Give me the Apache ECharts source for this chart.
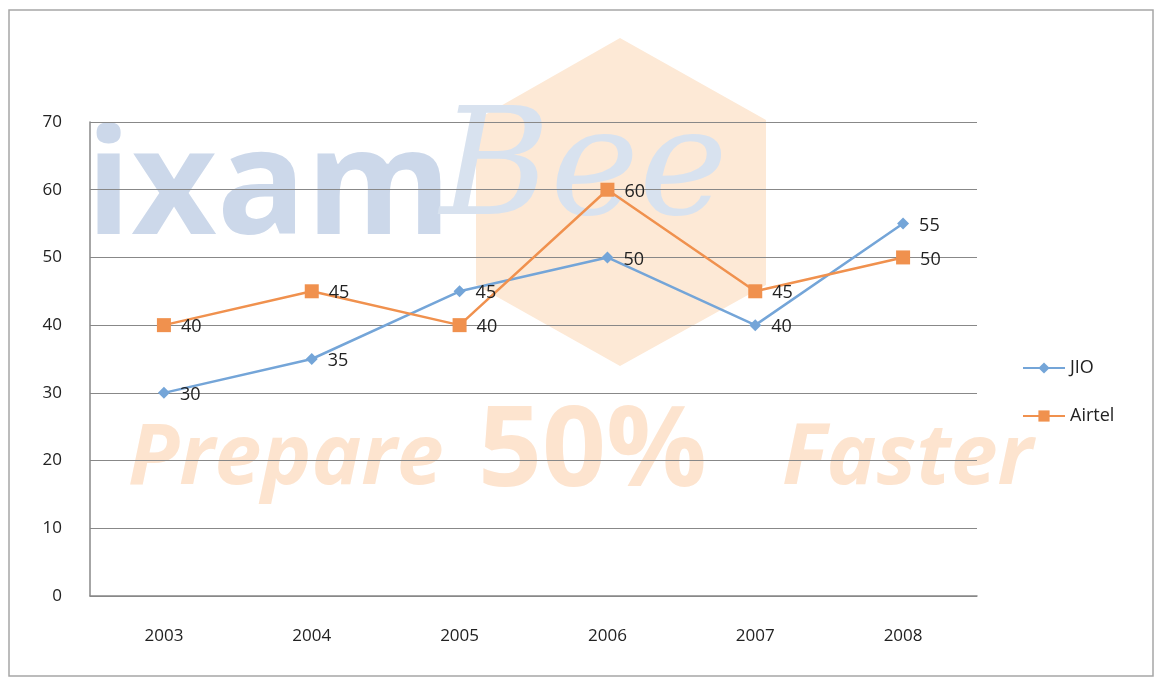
<!DOCTYPE html>
<html>
<head>
<meta charset="utf-8">
<script src="https://cdn.jsdelivr.net/npm/echarts@6/dist/echarts.min.js"></script>
<title>JIO vs Airtel</title>
<style>
* {margin:0; padding:0;}
body {background:#fff;}
#chart {width:1155px; height:679px;}
</style>
</head>
<body>
<div id="chart"></div>
<script>
var years = ['2003', '2004', '2005', '2006', '2007', '2008'];
var jio = [30, 35, 45, 50, 40, 55];
var airtel = [40, 45, 40, 60, 45, 50];
var yTicks = {min: 0, max: 70, interval: 10};

var chart = echarts.init(document.getElementById('chart'));
var font = 'Open Sans, Liberation Sans, sans-serif';

chart.setOption({
    animation: false,
    grid: {left: 90, right: 178, top: 122, bottom: 83},
    // faint watermark, like the source picture
    graphic: [
        {type: 'rect', shape: {x: 9, y: 10, width: 1144, height: 666},
         style: {fill: 'none', stroke: '#a6a6a6', lineWidth: 1.5}, z: -20},
        {type: 'polygon', shape: {points: [[620, 38], [766, 120], [766, 285], [620, 366], [476, 285], [476, 120]]},
         style: {fill: '#fde9d6'}, z: -10},
        {type: 'text', left: 86, top: 118,
         style: {text: 'ixam', font: 'bold 148px Open Sans, sans-serif', fill: '#ccd8ea'}, z: -5},
        {type: 'text', left: 440, top: 100,
         style: {text: 'Bee', font: 'italic 150px DejaVu Serif, serif', fill: '#d8e2ef'}, z: -5},
        {type: 'text', left: 128, top: 418,
         style: {text: 'Prepare', font: 'italic bold 84px Open Sans, sans-serif', fill: '#fde4cf'}, z: -5},
        {type: 'text', left: 478, top: 398,
         style: {text: '50%', font: 'bold 112px Open Sans, sans-serif', fill: '#fde4cf'}, z: -5},
        {type: 'text', left: 782, top: 418,
         style: {text: 'Faster', font: 'italic bold 84px Open Sans, sans-serif', fill: '#fde4cf'}, z: -5}
    ],
    legend: {
        orient: 'vertical',
        left: 1017,
        top: 354,
        itemGap: 30,
        itemWidth: 42,
        itemHeight: 14,
        textStyle: {fontFamily: font, fontSize: 18, color: '#222'},
        data: ['JIO', 'Airtel']
    },
    xAxis: {
        type: 'category',
        data: years,
        boundaryGap: true,
        axisLine: {lineStyle: {color: '#888', width: 1.5}},
        axisTick: {show: false},
        axisLabel: {fontFamily: font, fontSize: 17, color: '#222', margin: 32}
    },
    yAxis: {
        type: 'value',
        min: yTicks.min,
        max: yTicks.max,
        interval: yTicks.interval,
        axisLine: {show: true, lineStyle: {color: '#888', width: 1.5}},
        axisTick: {show: false},
        axisLabel: {fontFamily: font, fontSize: 17, color: '#222', margin: 28},
        splitLine: {lineStyle: {color: '#888', width: 1.2}}
    },
    series: [
        {
            name: 'JIO',
            type: 'line',
            data: jio,
            symbol: 'diamond',
            symbolSize: 12,
            z: 3,
            lineStyle: {color: '#74a5d8', width: 2.5},
            itemStyle: {color: '#74a5d8'},
            label: {show: true, position: 'right', distance: 10, offset: [0, 2],
                    fontFamily: font, fontSize: 18, color: '#222'}
        },
        {
            name: 'Airtel',
            type: 'line',
            data: airtel,
            symbol: 'rect',
            symbolSize: 14,
            lineStyle: {color: '#f0914e', width: 2.5},
            itemStyle: {color: '#f0914e'},
            label: {show: true, position: 'right', distance: 10, offset: [0, 2],
                    fontFamily: font, fontSize: 18, color: '#222'}
        }
    ]
});
</script>
</body>
</html>
